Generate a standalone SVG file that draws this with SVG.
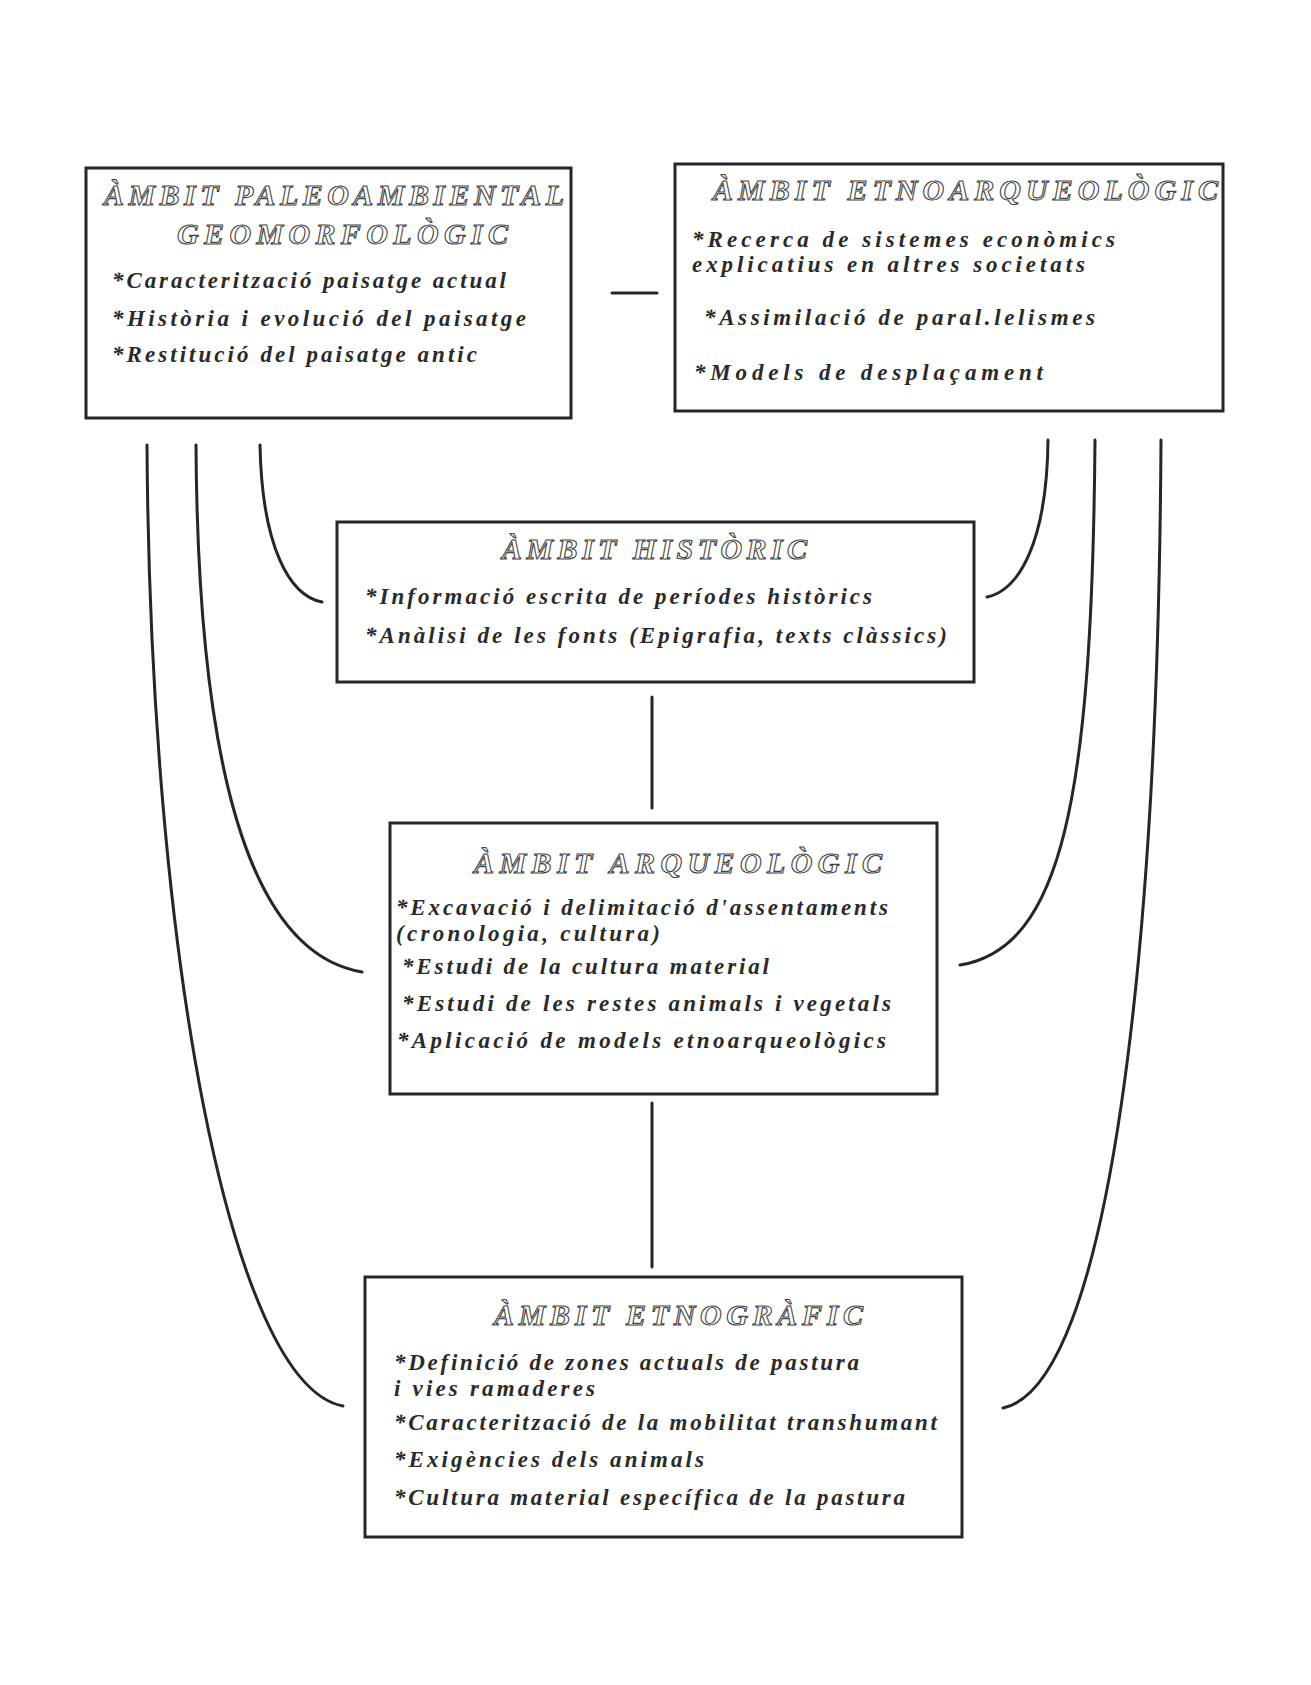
<svg xmlns="http://www.w3.org/2000/svg" width="1311" height="1685" viewBox="0 0 1311 1685">
  <style>
    .box { fill: #ffffff; stroke: #262626; stroke-width: 3; }
    .conn { fill: none; stroke: #262626; stroke-width: 3; stroke-linecap: round; }
    .title { font-family: "Liberation Serif", "DejaVu Serif", serif; font-size: 30px; font-weight: bold; font-style: italic; fill: #ffffff; stroke: #444444; stroke-width: 1.1; }
    .item { font-family: "Liberation Serif", "DejaVu Serif", serif; font-size: 23px; font-weight: bold; font-style: italic; fill: #2a2a2a; }
  </style>
  <rect x="0" y="0" width="1311" height="1685" fill="#ffffff"/>

  <g id="connectors">
    <line class="conn" x1="612" y1="293" x2="657" y2="293"/>
    <line class="conn" x1="652" y1="697" x2="652" y2="808"/>
    <line class="conn" x1="652" y1="1103" x2="652" y2="1267"/>
    <path class="conn" d="M260,445 C262,548 290,596 322,602"/>
    <path class="conn" d="M196,445 C198,800 260,955 362,972"/>
    <path class="conn" d="M147,445 C150,950 230,1385 343,1406"/>
    <path class="conn" d="M1048,440 C1047,540 1020,590 987,597"/>
    <path class="conn" d="M1095,440 C1092,800 1062,948 960,965"/>
    <path class="conn" d="M1161,440 C1158,950 1110,1385 1003,1408"/>
  </g>

  <g id="ambit-paleoambiental">
    <rect class="box" x="86" y="168" width="485" height="250"/>
    <text class="title" x="104" y="205" textLength="460" lengthAdjust="spacing">ÀMBIT PALEOAMBIENTAL</text>
    <text class="title" x="177" y="244" textLength="331" lengthAdjust="spacing">GEOMORFOLÒGIC</text>
    <text class="item" x="112" y="288" textLength="394" lengthAdjust="spacing">*Caracterització paisatge actual</text>
    <text class="item" x="112" y="326" textLength="414" lengthAdjust="spacing">*Història i evolució del paisatge</text>
    <text class="item" x="112" y="362" textLength="365" lengthAdjust="spacing">*Restitució del paisatge antic</text>
  </g>

  <g id="ambit-etnoarqueologic">
    <rect class="box" x="675" y="164" width="548" height="247"/>
    <text class="title" x="713" y="200" textLength="505" lengthAdjust="spacing">ÀMBIT ETNOARQUEOLÒGIC</text>
    <text class="item" x="692" y="247" textLength="423" lengthAdjust="spacing">*Recerca de sistemes econòmics</text>
    <text class="item" x="692" y="272" textLength="393" lengthAdjust="spacing">explicatius en altres societats</text>
    <text class="item" x="704" y="325" textLength="391" lengthAdjust="spacing">*Assimilació de paral.lelismes</text>
    <text class="item" x="694" y="380" textLength="349" lengthAdjust="spacing">*Models de desplaçament</text>
  </g>

  <g id="ambit-historic">
    <rect class="box" x="337" y="522" width="637" height="160"/>
    <text class="title" x="502" y="559" textLength="305" lengthAdjust="spacing">ÀMBIT HISTÒRIC</text>
    <text class="item" x="365" y="604" textLength="507" lengthAdjust="spacing">*Informació escrita de períodes històrics</text>
    <text class="item" x="365" y="643" textLength="582" lengthAdjust="spacing">*Anàlisi de les fonts (Epigrafia, texts clàssics)</text>
  </g>

  <g id="ambit-arqueologic">
    <rect class="box" x="390" y="823" width="547" height="271"/>
    <text class="title" x="474" y="873" textLength="408" lengthAdjust="spacing">ÀMBIT ARQUEOLÒGIC</text>
    <text class="item" x="396" y="915" textLength="492" lengthAdjust="spacing">*Excavació i delimitació d'assentaments</text>
    <text class="item" x="396" y="941" textLength="264" lengthAdjust="spacing">(cronologia, cultura)</text>
    <text class="item" x="402" y="974" textLength="367" lengthAdjust="spacing">*Estudi de la cultura material</text>
    <text class="item" x="402" y="1011" textLength="489" lengthAdjust="spacing">*Estudi de les restes animals i vegetals</text>
    <text class="item" x="397" y="1048" textLength="489" lengthAdjust="spacing">*Aplicació de models etnoarqueològics</text>
  </g>

  <g id="ambit-etnografic">
    <rect class="box" x="365" y="1277" width="597" height="260"/>
    <text class="title" x="494" y="1325" textLength="369" lengthAdjust="spacing">ÀMBIT ETNOGRÀFIC</text>
    <text class="item" x="394" y="1370" textLength="465" lengthAdjust="spacing">*Definició de zones actuals de pastura</text>
    <text class="item" x="394" y="1396" textLength="201" lengthAdjust="spacing">i vies ramaderes</text>
    <text class="item" x="394" y="1430" textLength="543" lengthAdjust="spacing">*Caracterització de la mobilitat transhumant</text>
    <text class="item" x="394" y="1467" textLength="310" lengthAdjust="spacing">*Exigències dels animals</text>
    <text class="item" x="394" y="1505" textLength="511" lengthAdjust="spacing">*Cultura material específica de la pastura</text>
  </g>
</svg>
